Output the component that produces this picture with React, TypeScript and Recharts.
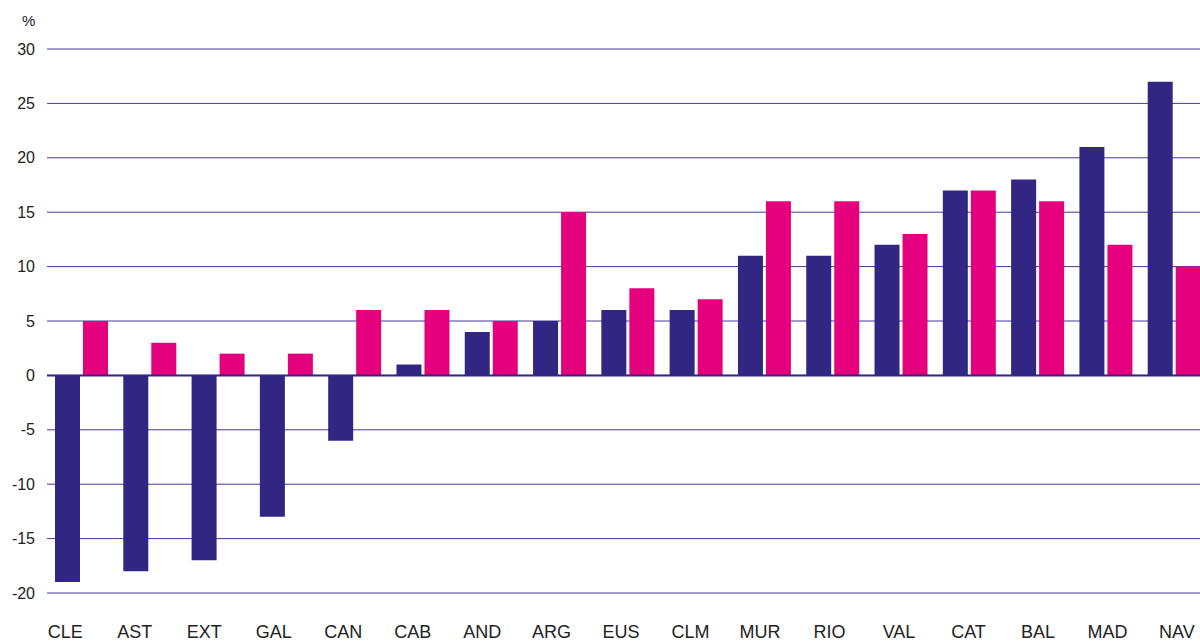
import { Bar, BarChart, CartesianGrid, ReferenceLine, XAxis, YAxis } from "recharts";

const regions = ["CLE", "AST", "EXT", "GAL", "CAN", "CAB", "AND", "ARG", "EUS", "CLM", "MUR", "RIO", "VAL", "CAT", "BAL", "MAD", "NAV"];
const darkValues = [-19, -18, -17, -13, -6, 1, 4, 5, 6, 6, 11, 11, 12, 17, 18, 21, 27];
const pinkValues = [5, 3, 2, 2, 6, 6, 5, 15, 8, 7, 16, 16, 13, 17, 16, 12, 10];
const yTicks = [-20, -15, -10, -5, 0, 5, 10, 15, 20, 25, 30];

const data = regions.map((region, i) => ({
  region,
  dark: darkValues[i],
  pink: pinkValues[i],
}));

const FONT = '"Liberation Sans", Arial, sans-serif';

export default function App() {
  return (
    <div
      style={{
        position: "absolute",
        left: 0,
        top: 0,
        width: 1200,
        height: 643,
        overflow: "hidden",
        background: "#fff",
        fontFamily: FONT,
      }}
    >
      <div
        style={{
          position: "absolute",
          left: 22,
          top: 13,
          fontSize: 15,
          lineHeight: 1,
          color: "#222",
        }}
      >
        %
      </div>
      <BarChart
        width={1215}
        height={643}
        data={data}
        margin={{ top: 49, right: 7, bottom: 0, left: 0 }}
        barSize={25}
        barGap={3}
      >
        <CartesianGrid vertical={false} stroke="#423b94" strokeWidth={1} />
        <XAxis dataKey="region" hide height={0} />
        <XAxis
          xAxisId="labels"
          dataKey="region"
          height={50}
          axisLine={false}
          tickLine={false}
          tickSize={0}
          tickMargin={32}
          interval={0}
          padding={{ left: -16.5, right: -3.7 }}
          tick={{ fill: "#222", fontSize: 18, fontFamily: FONT }}
        />
        <YAxis
          domain={[-20, 30]}
          ticks={yTicks}
          width={47}
          axisLine={false}
          tickLine={false}
          tickSize={0}
          tickMargin={12}
          tick={{ fill: "#222", fontSize: 16, fontFamily: FONT }}
        />
        <Bar dataKey="dark" fill="#312783" isAnimationActive={false} />
        <Bar dataKey="pink" fill="#e5007e" isAnimationActive={false} />
        <ReferenceLine y={0} stroke="#312783" strokeWidth={2} />
      </BarChart>
    </div>
  );
}
